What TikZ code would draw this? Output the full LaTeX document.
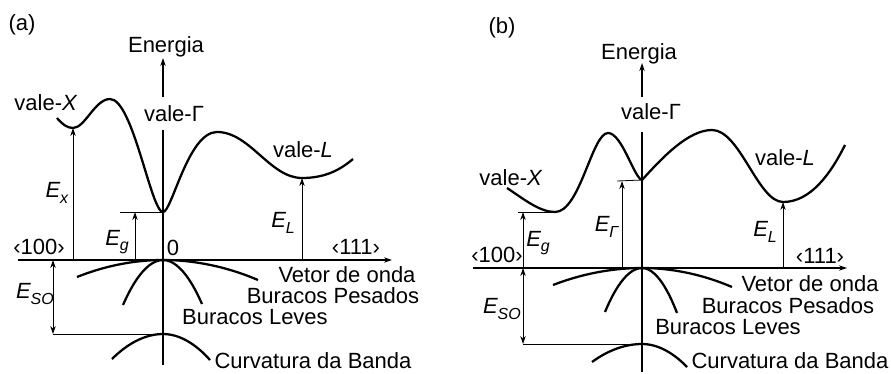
\documentclass[tikz,border=0pt]{standalone}
\usepackage{fontspec}
\setmainfont{Liberation Sans}
\usepackage{tikz}
\usetikzlibrary{arrows.meta}
\newcommand{\enlev}[1]{\textit{E}\kern-0.3pt\raisebox{-0.45ex}{\fontsize{12}{12}\selectfont\textit{#1}}}
\tikzset{
  lbl/.style={inner sep=0.75pt,font=\fontsize{16.5}{18}\selectfont},
  band/.style={line width=1.7pt},
  axis/.style={line width=1.1pt},
  level/.style={line width=0.6pt},
  tip/.style={-{Stealth[length=6pt,width=4pt]}},
}

\begin{document}
\begin{tikzpicture}[x=0.75pt,y=0.75pt,yscale=-1,xscale=1]
\useasboundingbox (0,0) rectangle (891,374);

%%%%%%%%%%%%%%%%%%%%%%%% panel (a)
\coordinate (oA) at (163,260);
\coordinate (xminA) at (73,128);
\coordinate (gminA) at (163,212);
\coordinate (lminA) at (302,178);
\coordinate (soA) at (163,334);

%Axes
\draw [axis,tip] (18,260) -- (392,260);
\draw [axis] (163,130) -- (163,365);
\draw [axis,tip] (163,97) -- (163,58);
%Curve Lines: conduction band
\draw [band] (57,118) .. controls (62,124) and (67,128) .. (xminA) .. controls (85,128) and (95,99) .. (110,99) .. controls (133,99) and (151,212) .. (gminA) .. controls (172,212) and (188,132) .. (217,132) .. controls (250,132) and (270,178) .. (lminA) .. controls (325,178) and (340,170) .. (353,159);
%Curve Lines: valence bands
\draw [band] (77,277) parabola bend (oA) (258,280);
\draw [band] (123,305) parabola bend (oA) (202,304);
\draw [band] (112,359) parabola bend (soA) (210,360);
%Energy levels
\draw [level,tip] (73,260) -- (xminA);
\draw [level,tip] (135,260) -- (135,212);
\draw [level] (120,212) -- (gminA);
\draw [level,tip] (302,260) -- (lminA);
\draw [level,{Stealth[length=6pt,width=4pt]}-{Stealth[length=6pt,width=4pt]}] (53,260) -- (53,334);
\draw [level] (53,334) -- (soA);

% Text Node
\draw (22,25) node (capA) [lbl] {(a)};
% Text Node
\draw (166,47) node (enA) [lbl] {Energia};
% Text Node
\draw (46,103) node (valxA) [lbl] {vale-\textit{X}};
% Text Node
\draw (174,114) node (valgA) [lbl] {vale-Γ};
% Text Node
\draw (303,150) node (vallA) [lbl] {vale-\textit{L}};
% Text Node
\draw (57,193) node (exA) [lbl] {\enlev{x}};
% Text Node
\draw (117,242) node (egA) [lbl] {\enlev{g}};
% Text Node
\draw (173,248) node (zeroA) [lbl] {0};
% Text Node
\draw (39,247) node (dirxA) [lbl] {‹100›};
% Text Node
\draw (356,247) node (dirlA) [lbl] {‹111›};
% Text Node
\draw (283,223) node (elA) [lbl] {\enlev{L}};
% Text Node
\draw (35,294) node (esoA) [lbl] {\enlev{SO}};
% Text Node
\draw (347,275) node (vetA) [lbl] {Vetor de onda};
% Text Node
\draw (333,296) node (hhA) [lbl] {Buracos Pesados};
% Text Node
\draw (255,317) node (lhA) [lbl] {Buracos Leves};
% Text Node
\draw (313,361) node (cbA) [lbl] {Curvatura da Banda};

%%%%%%%%%%%%%%%%%%%%%%%% panel (b)
\coordinate (oB) at (642,268);
\coordinate (xminB) at (555,212);
\coordinate (gminB) at (642,180);
\coordinate (lminB) at (783,202);
\coordinate (soB) at (642,344);

%Axes
\draw [axis,tip] (473,268) -- (847,268);
\draw [axis] (642,132) -- (642,372);
\draw [axis,tip] (642,97) -- (642,63);
%Curve Lines: conduction band
\draw [band] (507,188) .. controls (525,200) and (540,212) .. (xminB) .. controls (580,212) and (592,133) .. (608,133) .. controls (622,133) and (634,178) .. (gminB) .. controls (662,158) and (688,130) .. (712,130) .. controls (740,130) and (758,202) .. (lminB) .. controls (810,202) and (830,175) .. (845,145);
%Curve Lines: valence bands
\draw [band] (553,285) parabola bend (oB) (732,287);
\draw [band] (605,312) parabola bend (oB) (677,313);
\draw [band] (592,362) parabola bend (soB) (687,367);
%Energy levels
\draw [level,tip] (523,268) -- (523,212);
\draw [level] (518,212) -- (xminB);
\draw [level,tip] (622,268) -- (622,181);
\draw [level] (617,181) -- (gminB);
\draw [level,tip] (783,268) -- (lminB);
\draw [level,{Stealth[length=6pt,width=4pt]}-{Stealth[length=6pt,width=4pt]}] (523,268) -- (523,344);
\draw [level] (523,344) -- (soB);

% Text Node
\draw (502,28) node (capB) [lbl] {(b)};
% Text Node
\draw (639,54) node (enB) [lbl] {Energia};
% Text Node
\draw (651,112) node (valgB) [lbl] {vale-Γ};
% Text Node
\draw (511,178) node (valxB) [lbl] {vale-\textit{X}};
% Text Node
\draw (785,158) node (vallB) [lbl] {vale-\textit{L}};
% Text Node
\draw (538,243) node (egB) [lbl] {\enlev{g}};
% Text Node
\draw (607,227) node (eggB) [lbl] {\enlev{Γ}};
% Text Node
\draw (765,232) node (elB) [lbl] {\enlev{L}};
% Text Node
\draw (497,255) node (dirxB) [lbl] {‹100›};
% Text Node
\draw (820,256) node (dirlB) [lbl] {‹111›};
% Text Node
\draw (502,309) node (esoB) [lbl] {\enlev{SO}};
% Text Node
\draw (810,284) node (vetB) [lbl] {Vetor de onda};
% Text Node
\draw (788,306) node (hhB) [lbl] {Buracos Pesados};
% Text Node
\draw (728,327) node (lhB) [lbl] {Buracos Leves};
% Text Node
\draw (790,361) node (cbB) [lbl] {Curvatura da Banda};

\end{tikzpicture}
\end{document}
